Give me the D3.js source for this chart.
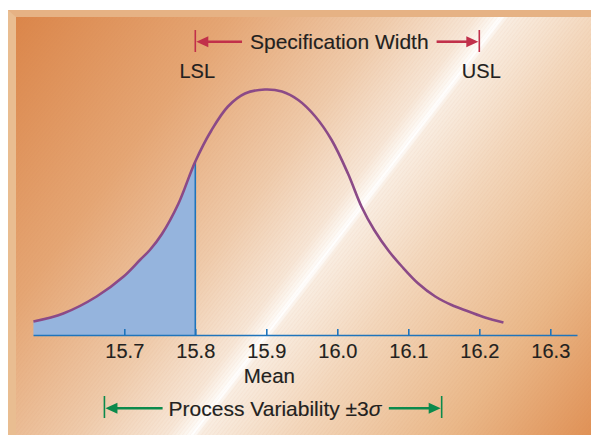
<!DOCTYPE html>
<html>
<head>
<meta charset="utf-8">
<script src="https://cdn.jsdelivr.net/npm/d3@7"></script>
<style>
  html, body { margin: 0; padding: 0; background: #ffffff; }
  svg { display: block; }
  text { font-family: "Liberation Sans", Arial, Helvetica, sans-serif; fill: #231f20; stroke: #231f20; stroke-width: 0.15px; }
</style>
</head>
<body>
<svg id="chart" width="591" height="435"></svg>
<script>
// ---- data ----
const curveX = [15.572, 15.614, 15.661, 15.699, 15.722, 15.736, 15.753, 15.776, 15.800, 15.823, 15.846, 15.870, 15.898, 15.922, 15.945, 15.969, 15.992, 16.015, 16.034, 16.052, 16.073, 16.091, 16.114, 16.138, 16.161, 16.185, 16.208, 16.234];
const curveY = [0.27, 0.43, 0.77, 1.17, 1.50, 1.70, 2.02, 2.62, 3.47, 4.10, 4.57, 4.83, 4.91, 4.87, 4.70, 4.37, 3.90, 3.23, 2.57, 2.10, 1.67, 1.37, 1.03, 0.77, 0.60, 0.47, 0.35, 0.25];
const tickValues = [15.7, 15.8, 15.9, 16.0, 16.1, 16.2, 16.3];
const tickLabels = ["15.7", "15.8", "15.9", "16.0", "16.1", "16.2", "16.3"];
const specLimits = [15.8, 16.2];          // LSL, USL
const specLabels = ["LSL", "USL"];
const processRange = [15.672, 16.147];    // ±3σ span
const meanValue = 15.9;

// ---- setup ----
const svg = d3.select("#chart");
const x = d3.scaleLinear().domain([15.5714, 16.3376]).range([33, 577]);
const y = d3.scaleLinear().domain([0, 5]).range([335, 85]);

const defs = svg.append("defs");
const grad = defs.append("linearGradient").attr("id", "bg")
  .attr("gradientUnits", "userSpaceOnUse")
  .attr("x1", 16).attr("y1", 17).attr("x2", 587).attr("y2", 439);
[[0, "#db864a"], [0.24, "#e5a674"], [0.42, "#efcbab"], [0.52, "#f7e6d6"], [0.543, "#fdf8f2"],
 [0.55, "#ffffff"], [0.558, "#f9ede1"], [0.66, "#f3d7bc"], [0.84, "#eab889"], [1, "#e09257"]]
  .forEach(([o, c]) => grad.append("stop").attr("offset", o).attr("stop-color", c));

const pat = defs.append("pattern").attr("id", "hatch")
  .attr("patternUnits", "userSpaceOnUse").attr("width", 3).attr("height", 3)
  .attr("patternTransform", "rotate(38)");
pat.append("line").attr("x1", 0).attr("y1", 0).attr("x2", 0).attr("y2", 3)
  .attr("stroke", "#c8784a").attr("stroke-opacity", 0.10).attr("stroke-width", 1);

// frame bevel
svg.append("rect").attr("x", 8).attr("y", 10).attr("width", 583).attr("height", 425).attr("fill", "#e6b284");
svg.append("path").attr("d", "M8,10 L16,17 L16,435 L8,435 Z").attr("fill", "#e9bd91");
svg.append("rect").attr("x", 16).attr("y", 17).attr("width", 575).attr("height", 418).attr("fill", "url(#bg)");
svg.append("rect").attr("x", 16).attr("y", 17).attr("width", 575).attr("height", 418).attr("fill", "url(#hatch)");

// ---- curve & shaded area ----
const pts = curveX.map((v, i) => [v, curveY[i]]);
const line = d3.line().x(d => x(d[0])).y(d => y(d[1])).curve(d3.curveCatmullRom.alpha(0.5));
const area = d3.area().x(d => x(d[0])).y0(y(0)).y1(d => y(d[1])).curve(d3.curveCatmullRom.alpha(0.5));
const leftPts = pts.filter(d => d[0] <= specLimits[0] + 1e-9);

svg.append("path").attr("d", area(leftPts)).attr("fill", "#95b4dd");
const lslY = curveY[curveX.indexOf(specLimits[0])];
svg.append("line").attr("x1", x(specLimits[0])).attr("x2", x(specLimits[0]))
  .attr("y1", y(0)).attr("y2", y(lslY)).attr("stroke", "#1f74bb").attr("stroke-width", 1.6);
svg.append("path").attr("d", line(pts)).attr("fill", "none")
  .attr("stroke", "#8b4a87").attr("stroke-width", 2.6).attr("stroke-linecap", "butt");

// ---- axis ----
const axis = d3.axisBottom(x).tickValues(tickValues)
  .tickFormat((d, i) => tickLabels[i]).tickSizeInner(-6).tickSizeOuter(0).tickPadding(8);
const gA = svg.append("g").attr("transform", `translate(0,${y(0)})`).call(axis);
gA.select(".domain").attr("stroke", "#1f74bb").attr("stroke-width", 1.6);
gA.selectAll(".tick line").attr("stroke", "#1f74bb").attr("stroke-width", 1.6);
gA.selectAll(".tick text").attr("fill", "#231f20").attr("dy", null).attr("y", 23)
  .style("font-size", "20px").style("font-family", '"Liberation Sans", Arial, sans-serif');

svg.append("text").attr("x", x(meanValue) + 3).attr("y", 383).attr("text-anchor", "middle")
  .style("font-size", "20.5px").text("Mean");

// ---- annotation arrows ----
function arrowRow(xa, xb, yy, label, color, textSize, baselineOff, barTop, barBot, gap, build) {
  const g = svg.append("g");
  const t = g.append("text").attr("x", (xa + xb) / 2 + 2).attr("y", yy + baselineOff)
    .attr("text-anchor", "middle").style("font-size", textSize + "px");
  build(t, label);
  const bb = t.node().getBBox();
  const ah = 12, aw = 5.5;
  g.append("line").attr("x1", xa).attr("x2", xa).attr("y1", barTop).attr("y2", barBot)
    .attr("stroke", color).attr("stroke-width", 1.6);
  g.append("line").attr("x1", xb).attr("x2", xb).attr("y1", barTop).attr("y2", barBot)
    .attr("stroke", color).attr("stroke-width", 1.6);
  g.append("line").attr("x1", xa + ah).attr("x2", bb.x - gap).attr("y1", yy).attr("y2", yy)
    .attr("stroke", color).attr("stroke-width", 2.6);
  g.append("line").attr("x1", bb.x + bb.width + gap).attr("x2", xb - ah).attr("y1", yy).attr("y2", yy)
    .attr("stroke", color).attr("stroke-width", 2.6);
  g.append("path").attr("d", `M${xa + 1},${yy} L${xa + 1 + ah},${yy - aw} L${xa + 1 + ah},${yy + aw} Z`).attr("fill", color);
  g.append("path").attr("d", `M${xb - 1},${yy} L${xb - 1 - ah},${yy - aw} L${xb - 1 - ah},${yy + aw} Z`).attr("fill", color);
}

arrowRow(x(specLimits[0]), x(specLimits[1]), 41.7, "Specification Width", "#c1304a", 21, 7.5, 30, 52, 8,
  (t, l) => t.text(l));
arrowRow(x(processRange[0]), x(processRange[1]), 408.3, "Process Variability ±3σ", "#0b8a4c", 21, 7.5, 396, 418, 6,
  (t, l) => {
    t.append("tspan").text("Process Variability ±3");
    t.append("tspan").style("font-style", "italic").text("σ");
  });

// LSL / USL labels
specLimits.forEach((v, i) => {
  svg.append("text").attr("x", x(v) + 2).attr("y", 78.3).attr("text-anchor", "middle")
    .style("font-size", "20px").text(specLabels[i]);
});
</script>
</body>
</html>
